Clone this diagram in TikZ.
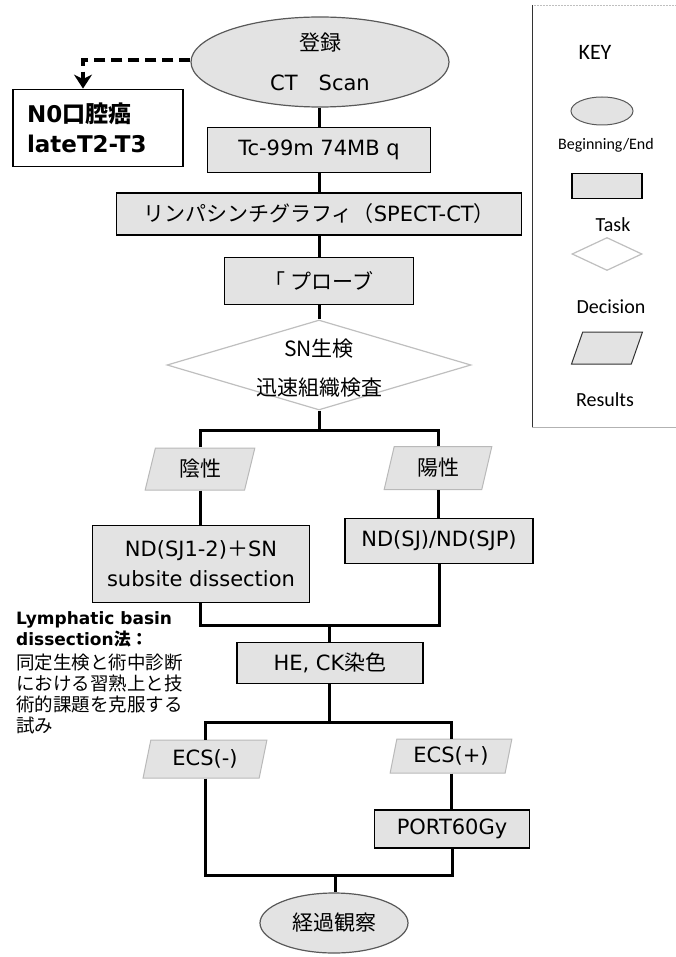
\documentclass[tikz,border=0pt]{standalone}
\usepackage{fontspec}
\setmainfont{DejaVu Sans}
\newfontfamily\jafont{Noto Sans CJK JP}
\newfontfamily\keyfont{Carlito}
\newcommand{\JP}[1]{{\jafont #1}}
\usetikzlibrary{shapes.geometric,arrows.meta}
\tikzset{
  boxfill/.style={fill=gray!22},
  taskbox/.style={draw=black,line width=1.8pt,boxfill,rectangle,inner sep=0pt,font=\fontsize{21}{30}\selectfont,align=center},
  startend/.style={draw=gray!70!black,line width=1.2pt,boxfill,ellipse,inner sep=0pt,font=\fontsize{21}{40}\selectfont,align=center},
  decision/.style={draw=gray!50,line width=1.2pt,fill=white,diamond,inner sep=0pt},
  result/.style={draw=gray!55,line width=1pt,boxfill,trapezium,trapezium left angle=76,trapezium right angle=104,trapezium stretches=true,inner sep=0pt,font=\fontsize{21}{24}\selectfont},
  conn/.style={line width=3pt,black},
  keytext/.style={font=\keyfont\fontsize{20}{24}\selectfont},
}
\begin{document}
\begin{tikzpicture}[x=1pt,y=-1pt]
\useasboundingbox (0,0) rectangle (676,957);
% main flow
\node[startend,minimum width=258,minimum height=90] (start) at (320,62) {\JP{登録}\\CT\JP{　}Scan};
\node[draw=black,line width=1.8pt,fill=white,minimum width=170,minimum height=77,inner sep=0pt,text width=142,font=\fontsize{23}{30}\bfseries\selectfont,align=left] (n0) at (98,128) {N0\JP{口腔癌}\\lateT2-T3};
\node[taskbox,minimum width=223,minimum height=45] (tc) at (319,150) {Tc-99m 74MB q};
\node[taskbox,minimum width=405,minimum height=42] (lymph) at (319,214) {\JP{リンパシンチグラフィ（}SPECT-CT\JP{）}};
\node[taskbox,minimum width=189,minimum height=47] (probe) at (319,281) {\JP{「 プローブ}};
\node[decision,minimum width=304,minimum height=90] (dia) at (319,365) {};
\node[font=\jafont\fontsize{21}{39}\selectfont,align=center] (diat) at (319,368) {SN生検\\迅速組織検査};
\node[result,minimum width=110,minimum height=42] (neg) at (200,469) {\JP{陰性}};
\node[result,minimum width=108,minimum height=43] (pos) at (438,468) {\JP{陽性}};
\node[taskbox,minimum width=217,minimum height=77] (ndl) at (201,564) {ND(SJ1-2)\JP{＋}SN\\subsite dissection};
\node[taskbox,minimum width=188,minimum height=45] (ndr) at (439,541) {ND(SJ)/ND(SJP)};
\node[taskbox,minimum width=186,minimum height=41] (he) at (330,663) {HE, CK\JP{染色}};
\node[result,minimum width=124,minimum height=38] (ecsn) at (205,759) {ECS(-)};
\node[result,minimum width=122,minimum height=34] (ecsp) at (451,756) {ECS(+)};
\node[taskbox,minimum width=155,minimum height=38] (port) at (452,829) {PORT60Gy};
\node[startend,minimum width=148,minimum height=60] (end) at (334,923) {\JP{経過観察}};
% side note
\node[anchor=north west,inner sep=0pt,align=left,font=\fontsize{17}{21}\selectfont] (note) at (16,611)
  {{\bfseries Lymphatic basin}\\{\bfseries dissection\JP{法：}}\\[3pt]\JP{\fontsize{18.5}{22}\selectfont 同定生検と術中診断}\\\JP{\fontsize{18.5}{22}\selectfont における習熟上と技}\\\JP{\fontsize{18.5}{22}\selectfont 術的課題を克服する}\\\JP{\fontsize{18.5}{22}\selectfont 試み}};
% connectors
\coordinate (j1) at (319,430);
\coordinate (j2) at (329,625);
\coordinate (j3) at (329,722);
\coordinate (j4) at (335,875);
\draw[conn] (start.south -| tc.north) -- (tc);
\draw[conn] (tc) -- (lymph);
\draw[conn] (lymph) -- (probe);
\draw[conn] (probe) -- (dia);
\draw[conn] (dia.south) -- (j1);
\draw[conn] (neg.north) |- (j1) -| (pos.north);
\draw[conn] (neg.south) -- (neg.south |- ndl.north);
\draw[conn] (pos.south) -- (pos.south |- ndr.north);
\draw[conn] (neg.south |- ndl.south) |- (j2) -| (ndr.south);
\draw[conn] (j2) -- (he.north -| j2);
\draw[conn] (he.south -| j3) -- (j3);
\draw[conn] (ecsn.north) |- (j3) -| (ecsp.north);
\draw[conn] (ecsp.south) -- (ecsp.south |- port.north);
\draw[conn] (ecsn.south) |- (j4) -| (port.south);
\draw[conn] (j4) -- (end.north -| j4);
\draw[line width=3.5pt,dash pattern=on 11pt off 6pt,-{Stealth[length=14pt,width=18pt]}] (start.west |- 0,60) -- (83,60) -- (n0.north -| 83,0);
% key
\draw[gray!50,line width=0.8pt,dash pattern=on 2pt off 1pt] (680,5) -- (532,5);
\draw[black!80,line width=1pt] (532,5) -- (532,427);
\draw[gray!60,line width=0.8pt] (532,427) -- (680,427);
\node[keytext,font=\keyfont\fontsize{22}{24}\selectfont] (keyt) at (595,52) {KEY};
\node[startend,minimum width=62,minimum height=28,line width=1pt] (k1) at (602,111) {};
\node[font=\keyfont\fontsize{16}{18}\selectfont] (k1t) at (606,145) {Beginning/End};
\node[draw=black,line width=1.3pt,boxfill,minimum width=70,minimum height=25,inner sep=0pt] (k2) at (607,186) {};
\node[keytext] (k2t) at (613,225) {Task};
\node[decision,minimum width=70,minimum height=33] (k3) at (607,254) {\phantom{x}};
\node[keytext] (k3t) at (611,307) {Decision};
\node[result,draw=black!80,minimum width=71,minimum height=32,font=\fontsize{10}{12}\selectfont] (k4) at (607,348) {\phantom{x}};
\node[keytext] (k4t) at (605,400) {Results};
\end{tikzpicture}
\end{document}
